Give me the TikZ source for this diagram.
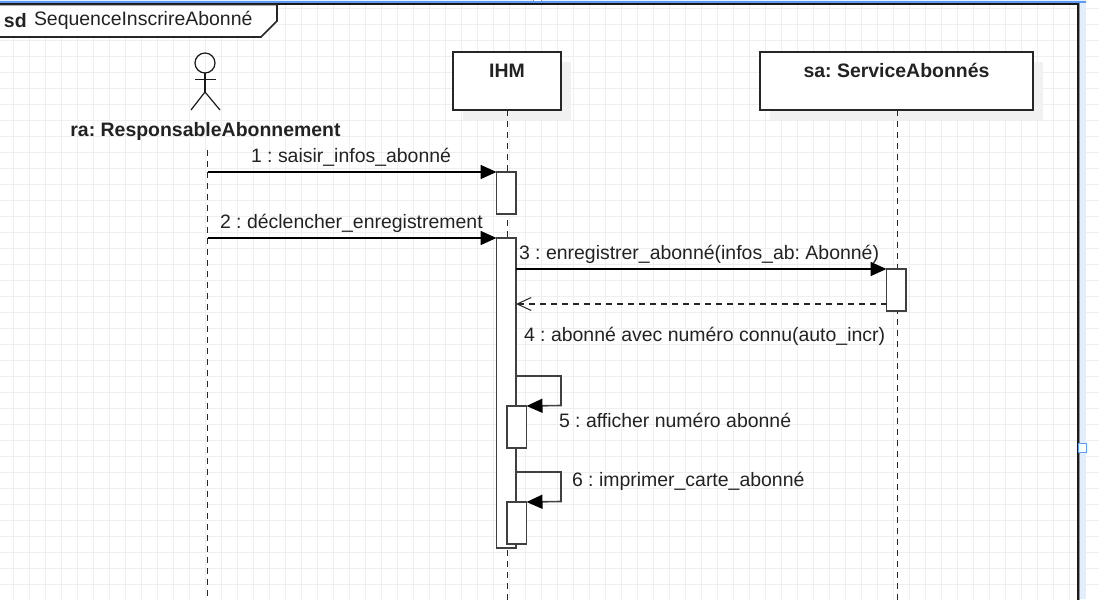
\documentclass[tikz,border=0pt]{standalone}
\usepackage{fontspec}
\setmainfont{Liberation Sans}
\usetikzlibrary{arrows.meta}
\definecolor{gridgray}{HTML}{EFEFEF}
\definecolor{shadowgray}{HTML}{F1F1F1}
\definecolor{inktext}{HTML}{222222}
\definecolor{selblue}{HTML}{5B9BF5}
\definecolor{selpale}{HTML}{E3EEFC}
\frenchspacing
\tikzset{
	objbox/.style={draw=black!85,fill=white,line width=1.6pt,inner sep=0pt,outer sep=0pt,minimum height=58pt},
	actbox/.style={draw=black!75,fill=white,line width=1.6pt,inner sep=0pt,outer sep=0pt,minimum width=19.5pt},
	lifeline/.style={black!85,line width=1.4pt,dash pattern=on 6pt off 5pt},
	msg/.style={black,line width=1.6pt,-{Triangle[length=16pt,width=14pt]}},
	retmsg/.style={black!85,line width=1.4pt,dash pattern=on 6pt off 5pt,-{Straight Barb[length=14pt,width=13pt,line width=1pt]}},
	selfmsg/.style={black!75,line width=1.6pt,-{Triangle[length=16pt,width=14pt,color=black,fill=black]}},
	txt/.style={inner sep=0pt,outer sep=0pt,text=inktext,font=\fontsize{19.45}{21}\selectfont},
	txtb/.style={txt,font=\fontsize{19.45}{21}\selectfont\bfseries}
}
\begin{document}
\begin{tikzpicture}[x=1pt,y=-1pt]
	\useasboundingbox (0,0) rectangle (1099,599);
	\clip (0,0) rectangle (1099,599);
	% grid
	\foreach \x in {0,1,...,67}
		\draw[gridgray,line width=0.8pt] (13.5+16*\x,0) -- (13.5+16*\x,599);
	\foreach \y in {0,1,...,36}
		\draw[gridgray,line width=0.8pt] (0,8+16*\y) -- (1099,8+16*\y);
	% selection
	\fill[selpale] (1079,0) rectangle (1086,599);
	\fill[selpale] (0,0) rectangle (1086,2);
	% frame
	\draw[selblue,line width=1.2pt] (-2,2) -- (1086,2);
	\draw[selblue,line width=1.2pt] (1079,2) -- (1079,601);
	\draw[black!90,line width=2pt] (-2,4.5) -- (1077.5,4.5) -- (1077.5,601);
	\draw[selblue,fill=white,line width=1pt] (1078,443.5) rectangle (1086.5,452);
	\draw[selblue,fill=white,line width=1pt] (533,-3) rectangle (541,1.5);
	\draw[black!85,fill=white,line width=1.6pt] (-2,4.5) -- (277,4.5) -- (277,21) -- (261,37) -- (-2,37) -- cycle;
	\node[txtb,anchor=west] (sdkey) at (4,20.5) {sd};
	\node[txt,anchor=west] (sdname) at (34,20.5) {SequenceInscrireAbonné};
	% actor
	\draw[black!90,line width=1.2pt] (205,63) circle (10);
	\draw[black!90,line width=1.2pt] (205,73) -- (205,92);
	\draw[black!90,line width=1.2pt] (195,79.5) -- (216,79.5);
	\draw[black!90,line width=1.2pt] (191,110) -- (205,92) -- (220,110);
	\node[txtb] (ralabel) at (205.5,131.5) {ra: ResponsableAbonnement};
	% shadows
	\fill[shadowgray] (463,62) rectangle (571,120);
	\fill[shadowgray] (770,62) rectangle (1043,120);
	% objects
	\node[objbox,minimum width=108pt] (ihm) at (507,81) {};
	\node[objbox,minimum width=273pt] (sa) at (896.5,81) {};
	\node[txtb] (ihmlabel) at (507,70.5) {IHM};
	\node[txtb] (salabel) at (896.5,70.5) {sa: ServiceAbonnés};
	% end points on the lifelines
	\coordinate (ratop) at (207.5,150);
	\coordinate (raend) at (207.5,601);
	\coordinate (ihmend) at (507.5,601);
	\coordinate (saend) at (897.5,601);
	\coordinate (ihmtop) at (507.5,110);
	\coordinate (satop) at (897.5,110);
	\coordinate (ramsga) at (207.5,172);
	\coordinate (ramsgb) at (207.5,238);
	% lifelines
	\draw[lifeline] (ratop) -- (raend);
	\draw[lifeline] (ihmtop) -- (ihmend);
	\draw[lifeline] (satop) -- (saend);
	% activations
	\node[actbox,minimum height=42pt] (acta) at (506.25,193) {};
	\node[actbox,minimum height=310pt] (actb) at (506.25,393) {};
	\node[actbox,minimum height=42pt] (actc) at (896.25,290) {};
	\coordinate (loopa) at (516,376);
	\coordinate (loopb) at (516,472);
	\coordinate (retend) at (516,304);
	\coordinate (retstart) at (886.5,304);
	\coordinate (msgc) at (516,269);
	% self calls
	\node[actbox,minimum height=42pt] (actd) at (516.75,427) {};
	\node[actbox,minimum height=42pt] (acte) at (516.75,523) {};
	% messages
	\draw[msg] (ramsga) -- (acta.north west);
	\draw[msg] (ramsgb) -- (actb.north west);
	\draw[msg] (msgc) -- (actc.north west);
	\draw[retmsg] (retstart) -- (retend);
	\draw[selfmsg] (loopa) -- (561,376) -- (561,405.5) -- (actd.north east);
	\draw[selfmsg] (loopb) -- (561,472) -- (561,501.5) -- (acte.north east);
	% labels
	\node[txt,anchor=west] (msgalabel) at (251,157.5) {1 : saisir\_infos\_abonné};
	\node[txt,anchor=west] (msgblabel) at (220,223.5) {2 : déclencher\_enregistrement};
	\node[txt,anchor=west] (msgclabel) at (519,254.5) {3 : enregistrer\_abonné(infos\_ab: Abonné)};
	\node[txt,anchor=west] (retlabel) at (524,336.5) {4 : abonné avec numéro connu(auto\_incr)};
	\node[txt,anchor=west] (msgdlabel) at (559,420.5) {5 : afficher numéro abonné};
	\node[txt,anchor=west] (msgelabel) at (572,481.5) {6 : imprimer\_carte\_abonné};
\end{tikzpicture}
\end{document}
